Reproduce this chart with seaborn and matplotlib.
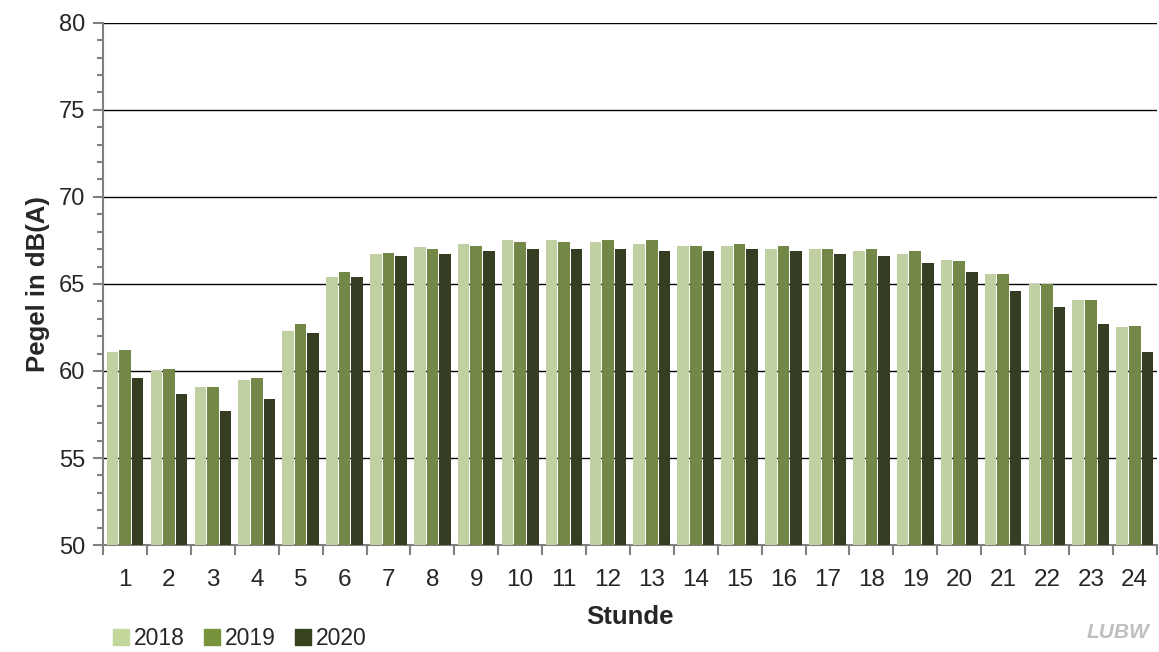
import matplotlib.pyplot as plt
import matplotlib.ticker as mticker
import seaborn as sns
import pandas as pd

# Stundenwerte (Mittelungspegel) je Jahr
stunden = [str(h) for h in range(1, 25)]
jahre = ['2018', '2019', '2020']
pegel_2018 = [61.1, 60.0, 59.1, 59.5, 62.3, 65.4, 66.7, 67.1, 67.3, 67.5, 67.5, 67.4,
              67.3, 67.2, 67.2, 67.0, 67.0, 66.9, 66.7, 66.4, 65.6, 65.0, 64.1, 62.5]
pegel_2019 = [61.2, 60.1, 59.1, 59.6, 62.7, 65.7, 66.8, 67.0, 67.2, 67.4, 67.4, 67.5,
              67.5, 67.2, 67.3, 67.2, 67.0, 67.0, 66.9, 66.3, 65.6, 65.0, 64.1, 62.6]
pegel_2020 = [59.6, 58.7, 57.7, 58.4, 62.2, 65.4, 66.6, 66.7, 66.9, 67.0, 67.0, 67.0,
              66.9, 66.9, 67.0, 66.9, 66.7, 66.6, 66.2, 65.7, 64.6, 63.7, 62.7, 61.1]
farben = ['#C4D79B', '#77933C', '#37431E']

df = pd.DataFrame({
    'Stunde': stunden * 3,
    'Pegel': pegel_2018 + pegel_2019 + pegel_2020,
    'Jahr': [j for j in jahre for _ in stunden],
})

sns.set_style('white')
plt.rcParams['font.family'] = ['Liberation Sans', 'DejaVu Sans']

fig = plt.figure(figsize=(11.59, 6.52), dpi=100)
ax = fig.add_axes([0.089, 0.164, 0.909, 0.801])

sns.barplot(data=df, x='Stunde', y='Pegel', hue='Jahr', palette=farben,
            width=0.86, gap=0.08, linewidth=0, ax=ax, legend=False, zorder=3)

ax.set_ylim(50, 80)
ax.set_xlim(-0.5, 23.5)
ax.yaxis.set_major_locator(mticker.MultipleLocator(5))
ax.yaxis.set_minor_locator(mticker.MultipleLocator(1))
ax.grid(axis='y', which='major', color='black', linewidth=1.0, zorder=1)
ax.set_axisbelow(True)

# x ticks between the groups
ax.set_xticks(range(24))
ax.set_xticklabels(stunden)
ax.set_xticks([i - 0.5 for i in range(25)], minor=True)
ax.tick_params(axis='x', which='major', bottom=False, length=0, pad=17, labelsize=17.5)
ax.tick_params(axis='x', which='minor', bottom=True, length=7, width=1.5,
               color='#808080', direction='out')
ax.tick_params(axis='y', which='major', length=7, width=1.5, color='#808080',
               direction='out', labelsize=17, pad=6, left=True)
ax.tick_params(axis='y', which='minor', length=4, width=1.5, color='#808080',
               direction='out', left=True)

for s in ['top', 'right']:
    ax.spines[s].set_visible(False)
for s in ['left', 'bottom']:
    ax.spines[s].set_color('#808080')
    ax.spines[s].set_linewidth(1.5)

ax.set_xlabel('Stunde', fontsize=18.5, fontweight='bold', labelpad=10)
ax.set_ylabel('Pegel in dB(A)', fontsize=18.5, fontweight='bold', labelpad=6)

handles = [plt.Line2D([], [], marker='s', linestyle='', markersize=11,
                      markerfacecolor=c, markeredgecolor=c) for c in farben]
fig.legend(handles, jahre, loc='lower left', bbox_to_anchor=(0.081, -0.028), ncol=3,
           frameon=False, fontsize=16.5, handlelength=0.6, handletextpad=0.25,
           columnspacing=0.9, borderaxespad=0.5)

fig.text(0.992, 0.03, 'LUBW', ha='right', va='center', fontsize=15,
         fontweight='bold', fontstyle='italic', color='#C0C0C0')

fig.savefig('out.png', dpi=100)
